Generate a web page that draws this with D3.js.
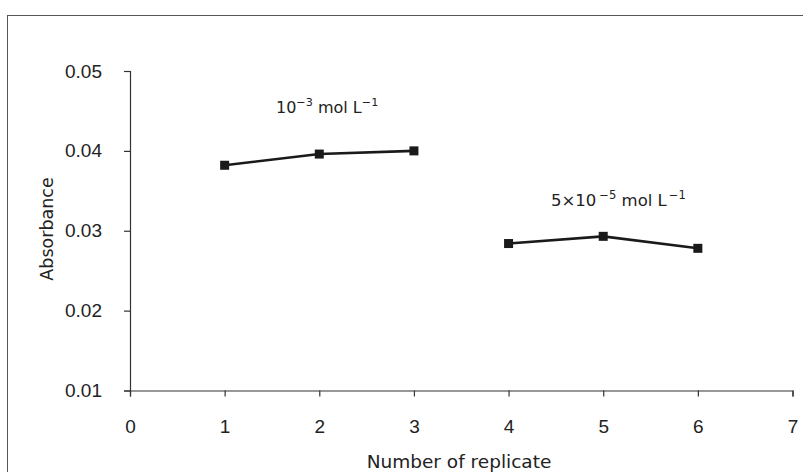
<!DOCTYPE html>
<html>
<head>
<meta charset="utf-8">
<script src="https://cdn.jsdelivr.net/npm/d3@7"></script>
<style>
  html, body { margin: 0; padding: 0; background: #fff; }
  svg { display: block; }
  text { fill: #222; }
</style>
</head>
<body>
<svg id="chart" width="803" height="472"></svg>
<script>
// Absorbance of repeated measurements at two concentrations
const replicatesHigh = [1, 2, 3];
const absorbanceHigh = [0.0382, 0.0396, 0.0400];
const replicatesLow = [4, 5, 6];
const absorbanceLow = [0.0284, 0.0293, 0.0278];
const xTicks = [0, 1, 2, 3, 4, 5, 6, 7];
const yTicks = [0.01, 0.02, 0.03, 0.04, 0.05];

const svg = d3.select("#chart");
const tickFont = "'Liberation Sans', Arial, sans-serif";
const textFont = "'DejaVu Sans', sans-serif";

// outer frame around the whole figure
svg.append("rect")
  .attr("x", 7.5).attr("y", 15.5)
  .attr("width", 803).attr("height", 472)
  .attr("fill", "none").attr("stroke", "#555").attr("stroke-width", 1);

const x = d3.scaleLinear().domain([0, 7]).range([130, 792.5]);
const y = d3.scaleLinear().domain([0.01, 0.05]).range([390.5, 71]);

const xAxis = svg.append("g")
  .attr("transform", `translate(0,${y(0.01)})`)
  .call(d3.axisBottom(x).tickValues(xTicks).tickFormat(d3.format("d")).tickSizeOuter(0).tickSize(6).tickPadding(23));
const yAxis = svg.append("g")
  .attr("transform", `translate(${x(0)},0)`)
  .call(d3.axisLeft(y).tickValues(yTicks).tickFormat(d3.format(".2f")).tickSizeOuter(0).tickSize(6).tickPadding(22));

[xAxis, yAxis].forEach(g => {
  g.select(".domain").attr("stroke", "#333").attr("stroke-width", 1.2);
  g.selectAll(".tick line").attr("stroke", "#333").attr("stroke-width", 1.2);
  g.selectAll(".tick text").attr("font-size", 19).attr("fill", "#222")
    .attr("font-family", tickFont);
});

// axis titles
svg.append("text")
  .attr("x", 459).attr("y", 468)
  .attr("text-anchor", "middle").attr("font-size", 18.5)
  .attr("font-family", textFont)
  .text("Number of replicate");
svg.append("text")
  .attr("transform", `translate(53,229) rotate(-90)`)
  .attr("text-anchor", "middle").attr("font-size", 17.5)
  .attr("font-family", textFont)
  .text("Absorbance");

const line = d3.line().x(d => x(d[0])).y(d => y(d[1]));

function drawSeries(xs, ys) {
  const pts = xs.map((v, i) => [v, ys[i]]);
  svg.append("path")
    .datum(pts)
    .attr("d", line)
    .attr("fill", "none").attr("stroke", "#1a1a1a").attr("stroke-width", 2.6);
  svg.selectAll(null)
    .data(pts)
    .enter().append("rect")
    .attr("x", d => x(d[0]) - 4.5).attr("y", d => y(d[1]) - 4.5)
    .attr("width", 9).attr("height", 9)
    .attr("fill", "#1a1a1a");
}
drawSeries(replicatesHigh, absorbanceHigh);
drawSeries(replicatesLow, absorbanceLow);

// concentration labels with superscripts
function label(xp, yp, size, parts) {
  const t = svg.append("text").attr("x", xp).attr("y", yp)
    .attr("font-size", size).attr("font-family", textFont);
  parts.forEach(p => {
    const s = t.append("tspan").text(p.t);
    if (p.sup) s.attr("font-size", size * 0.7).attr("dy", -7).attr("dx", p.dx || 0);
    else if (p.after) s.attr("dy", 7);
  });
}
label(276, 113, 16, [
  { t: "10" }, { t: "\u22123", sup: true }, { t: " mol L", after: true }, { t: "\u22121", sup: true }
]);
label(551, 206, 16.5, [
  { t: "5\u00d710" }, { t: "\u22125", sup: true, dx: 3 }, { t: " mol L", after: true }, { t: "\u22121", sup: true, dx: 2 }
]);
</script>
</body>
</html>
